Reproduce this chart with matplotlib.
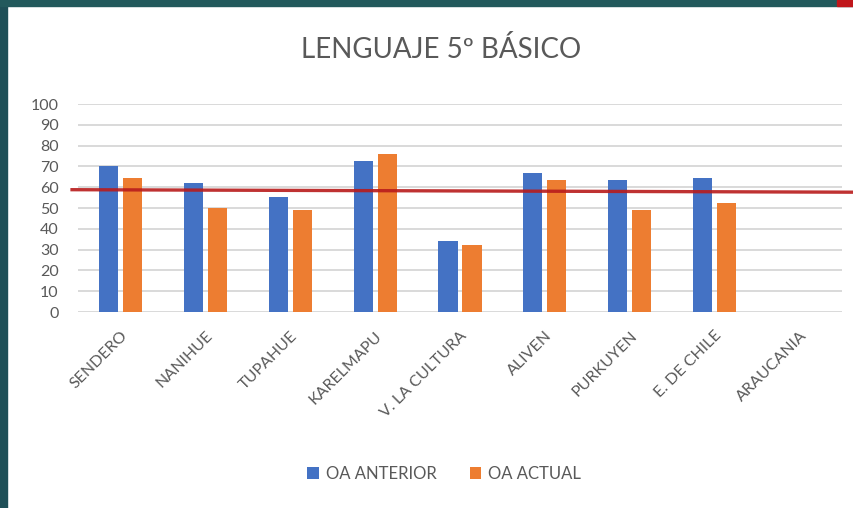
import matplotlib.pyplot as plt
import matplotlib.patches as mpatches
import numpy as np

plt.rcParams['font.family'] = ['Lato', 'DejaVu Sans']

# Data
schools = ["SENDERO", "NANIHUE", "TUPAHUE", "KARELMAPU", "V. LA CULTURA",
           "ALIVEN", "PURKUYEN", "E. DE CHILE", "ARAUCANIA"]
oa_anterior = [70, 62, 55.5, 72.5, 34, 67, 63.5, 64.5, np.nan]
oa_actual = [64.5, 50, 49, 76, 32, 63.5, 49, 52.5, np.nan]
ref_line = [58.8, 57.6]   # hand-drawn red line, left and right end
y_ticks = list(range(0, 101, 10))

fig = plt.figure(figsize=(8.54, 5.08), dpi=100)
fig.patch.set_facecolor("white")

# slide frame
fig.patches.append(mpatches.Rectangle((0, 0), 7 / 854, 1, transform=fig.transFigure,
                                      color="#1e4f57", zorder=0))
fig.patches.append(mpatches.Rectangle((0, 1 - 6 / 508), 1, 6 / 508, transform=fig.transFigure,
                                      color="#22595c", zorder=0))
fig.patches.append(mpatches.Rectangle((837 / 854, 1 - 6 / 508), 17 / 854, 6 / 508,
                                      transform=fig.transFigure, color="#c0161b", zorder=1))

ax = fig.add_axes([78 / 854, 1 - 312 / 508, (842 - 78) / 854, (312 - 104) / 508])
x = np.arange(len(schools))
w = 0.225
ax.bar(x - 0.141, oa_anterior, w, color="#4472c4", label="OA ANTERIOR", zorder=3)
ax.bar(x + 0.141, oa_actual, w, color="#ed7d31", label="OA ACTUAL", zorder=3)

ax.plot([-0.57, 8.62], ref_line, color="#b81c1c", lw=2.4, alpha=0.9,
        clip_on=False, zorder=4)

ax.set_xlim(-0.5, len(schools) - 0.5)
ax.set_ylim(0, 100)
ax.set_yticks(y_ticks)
ax.grid(axis="y", color="#d9d9d9", lw=1.4, zorder=0)
for s in ax.spines.values():
    s.set_visible(False)
ax.tick_params(length=0, colors="#595959", labelsize=11.5)
ax.tick_params(axis="y", pad=14)
ax.set_xticks(x)
ax.set_xticklabels(schools, rotation=45, ha="right", rotation_mode="anchor")
ax.tick_params(axis="x", pad=12)

fig.text(0.517, 1 - 50 / 508, "LENGUAJE 5º BÁSICO", ha="center", va="center",
         fontsize=20, color="#595959")

fig.legend(loc="center", bbox_to_anchor=(0.52, 1 - 474 / 508), ncol=2, frameon=False,
           fontsize=12, handlelength=0.7, handleheight=0.7, columnspacing=2.0,
           handletextpad=0.4, labelcolor="#595959")

fig.savefig("out.png", dpi=100)
